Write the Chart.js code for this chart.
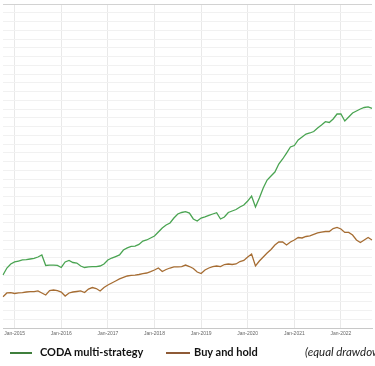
<!DOCTYPE html>
<html>
<head>
<meta charset="utf-8">
<script src="https://cdn.jsdelivr.net/npm/chart.js@4"></script>
<style>
  html, body { margin: 0; padding: 0; background: #fff; overflow: hidden; }
  #wrap { position: relative; width: 375px; height: 366px; overflow: hidden; }
  #legend { position: absolute; left: 0; top: 344px; width: 600px; height: 18px; font-family: Lato, sans-serif; font-size: 11px; color: #111; white-space: nowrap; }
  .mark { position: absolute; top: 8px; height: 2px; }
  .txt { position: absolute; top: 0; line-height: 16px; font-weight: bold; }
  .note { position: absolute; top: 0; line-height: 16px; font-style: italic; font-size: 11.5px; color: #222; }
</style>
</head>
<body>
<div id="wrap">
  <canvas id="perf-chart" width="375" height="366"></canvas>
  <div id="legend">
    <div class="mark" style="left:10px;width:22px;background:#3f7f3c"></div>
    <div class="txt" style="left:40px">CODA multi-strategy</div>
    <div class="mark" style="left:166px;width:24px;background:#8e5a36"></div>
    <div class="txt" style="left:194px">Buy and hold</div>
    <div class="note" style="left:305px">(equal drawdown)</div>
  </div>
</div>
<script>
// months from Oct-2014 to Sep-2022
const monthNames = ["Jan", "Feb", "Mar", "Apr", "May", "Jun", "Jul", "Aug", "Sep", "Oct", "Nov", "Dec"];
const months = [];
for (let i = 0; i < 96; i++) {
  const m = (9 + i) % 12;
  const y = 2014 + Math.floor((9 + i) / 12);
  months.push(monthNames[m] + "-" + y);
}

// values (one unit = one horizontal gridline)
const codaValues = [
  6.05, 6.85, 7.31, 7.54, 7.65, 7.77, 7.82, 7.88, 7.94, 8.11, 8.34, 7.14,
  7.19, 7.19, 7.14, 6.91, 7.54, 7.71, 7.48, 7.42, 7.08, 6.91, 6.97, 7.02,
  7.02, 7.08, 7.31, 7.77, 7.99, 8.16, 8.34, 8.91, 9.14, 9.31, 9.36, 9.54,
  9.93, 10.05, 10.28, 10.51, 10.96, 11.42, 11.76, 11.99, 12.56, 13.02, 13.19, 13.28,
  13.13, 12.45, 12.22, 12.56, 12.68, 12.85, 13.02, 13.17, 12.45, 12.68, 13.19, 13.36,
  13.53, 13.82, 14.05, 14.5, 15.07, 13.82, 14.85, 15.99, 16.9, 17.36, 17.81, 18.73,
  19.3, 19.98, 20.67, 20.84, 21.47, 21.81, 22.15, 22.27, 22.44, 22.84, 23.18, 23.56,
  23.47, 23.87, 24.44, 24.44, 23.64, 24.09, 24.55, 24.78, 25.01, 25.18, 25.24, 25.07
];

const buyHoldValues = [
  3.57, 4.0, 4.03, 3.94, 4.0, 4.05, 4.11, 4.15, 4.15, 4.23, 4.0, 3.77,
  4.28, 4.34, 4.26, 4.11, 3.65, 4.0, 4.11, 4.17, 4.23, 4.05, 4.45, 4.62,
  4.51, 4.23, 4.62, 4.91, 5.14, 5.37, 5.6, 5.77, 5.94, 6.0, 6.05, 6.11,
  6.22, 6.28, 6.43, 6.62, 6.85, 6.45, 6.68, 6.85, 6.97, 6.97, 7.02, 7.19,
  7.02, 6.79, 6.39, 6.22, 6.62, 6.85, 7.02, 7.08, 7.02, 7.25, 7.31, 7.25,
  7.31, 7.59, 7.71, 8.11, 8.45, 7.08, 7.65, 8.11, 8.56, 8.96, 9.48, 9.82,
  9.82, 9.48, 9.82, 10.05, 10.33, 10.28, 10.45, 10.51, 10.68, 10.85, 10.96, 11.02,
  11.02, 11.36, 11.48, 11.31, 10.91, 10.91, 10.62, 10.05, 9.76, 10.05, 10.33, 10.05
];

const yMin = 0;
const yMax = 37;

function isJan(index) {
  return months[index] && months[index].startsWith("Jan");
}

const canvas = document.querySelector("#perf-chart");

new Chart(canvas.getContext("2d"), {
  type: "line",
  data: {
    labels: months,
    datasets: [
      {
        label: "CODA multi-strategy",
        data: codaValues,
        borderColor: "#4aa452",
        borderWidth: 1.3,
        pointRadius: 0,
        tension: 0,
      },
      {
        label: "Buy and hold",
        data: buyHoldValues,
        borderColor: "#a66d33",
        borderWidth: 1.3,
        pointRadius: 0,
        tension: 0,
      },
    ],
  },
  options: {
    responsive: false,
    animation: false,
    layout: { padding: { left: 0, right: 0, top: 4, bottom: 28 } },
    plugins: { legend: { display: false }, tooltip: { enabled: false } },
    scales: {
      x: {
        offset: false,
        afterFit: (scale) => { scale.height = 10; },
        border: { display: true, color: "#c8c8c8" },
        grid: {
          drawTicks: false,
          color: (ctx) => (isJan(ctx.index) ? "#e9e9e9" : "rgba(0,0,0,0)"),
        },
        ticks: {
          autoSkip: false,
          maxRotation: 0,
          padding: 3,
          color: "#666",
          font: { family: "Liberation Sans", size: 5 },
          callback: (val, index) => (isJan(index) ? months[index] : ""),
        },
      },
      y: {
        min: yMin,
        max: yMax,
        afterFit: (scale) => { scale.width = 0; },
        border: { display: false },
        grid: {
          drawTicks: false,
          color: (ctx) => (ctx.tick && ctx.tick.value === yMax ? "#d2d2d2" : "#f1f1f1"),
        },
        ticks: { display: false, stepSize: 1 },
      },
    },
  },
});
</script>
</body>
</html>
